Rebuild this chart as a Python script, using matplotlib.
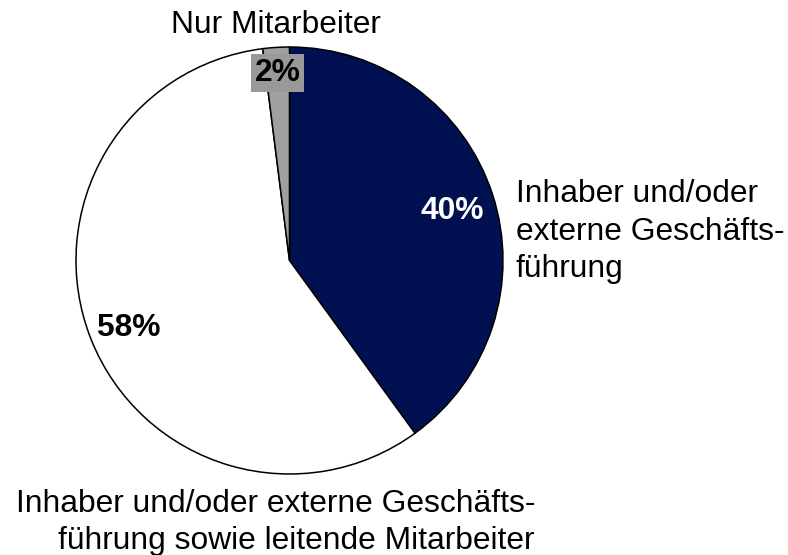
import matplotlib
matplotlib.use("Agg")
import matplotlib.pyplot as plt
import numpy as np

plt.rcParams['font.family'] = ['Liberation Sans', 'DejaVu Sans']

# Data
shares = [40, 58, 2]
pct_labels = ["40%", "58%", "2%"]
colors = ["#001050", "#ffffff", "#a0a0a0"]
text_colors = ["white", "black", "black"]
cat_labels = [
    "Inhaber und/oder\nexterne Geschäfts-\nführung",
    "Inhaber und/oder externe Geschäfts-\nführung sowie leitende Mitarbeiter",
    "Nur Mitarbeiter",
]

W, H = 788, 555
fig = plt.figure(figsize=(W / 100, H / 100), dpi=100)
ax = fig.add_axes([0, 0, 1, 1])
ax.set_xlim(0, W)
ax.set_ylim(0, H)
ax.axis('off')

cx, cy, R = 289.5, H - 260.5, 213.5
wedges, _ = ax.pie(shares, colors=colors, startangle=90, counterclock=False,
                   center=(cx, cy), radius=R,
                   wedgeprops=dict(edgecolor='black', linewidth=1.1))
ax.set_xlim(0, W)
ax.set_ylim(0, H)
ax.set_aspect('auto')

fs = 22.9
dists = [0.80, 0.81, 0.88]
for w, lab, tc, d in zip(wedges, pct_labels, text_colors, dists):
    ang = np.deg2rad((w.theta1 + w.theta2) / 2)
    x = cx + d * R * np.cos(ang)
    y = cy + d * R * np.sin(ang)
    kw = {'va': 'center_baseline'}
    if lab == "2%":
        kw = {'va': 'center',
              'bbox': dict(boxstyle='square,pad=0.12', fc='#999999', ec='none')}
    ax.text(x, y, lab, ha='center', fontsize=fs,
            fontweight='bold', color=tc, **kw)

# category labels (line by line)
# right label
for i, line in enumerate(cat_labels[0].split("\n")):
    ax.text(516, H - 202 - i * 37.5, line, ha='left', va='baseline', fontsize=fs)
# bottom label (right aligned)
for i, line in enumerate(cat_labels[1].split("\n")):
    ax.text(535, H - 512 - i * 36.5, line, ha='right', va='baseline', fontsize=fs)
# top label
ax.text(276, H - 33, cat_labels[2], ha='center', va='baseline', fontsize=fs)

fig.savefig("out.png", dpi=100)
